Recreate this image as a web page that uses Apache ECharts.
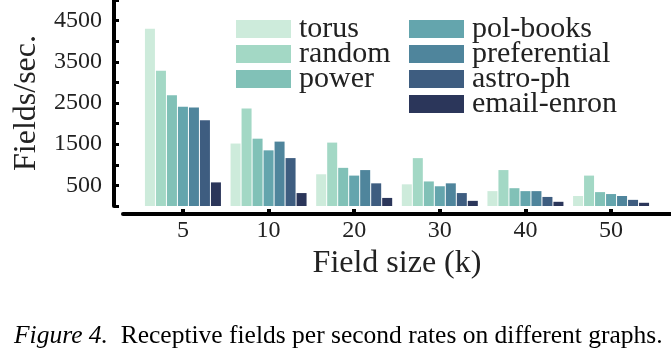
<!DOCTYPE html>
<html lang="en">
<head>
    <meta charset="UTF-8">
    <title>Receptive fields per second</title>
    <style>
        html, body { margin: 0; padding: 0; background: #fff; }
        #box { width: 671px; height: 354px; }
    </style>
</head>
<body>
    <div id="box"></div>
</body>
<script src="https://cdn.jsdelivr.net/npm/echarts@6/dist/echarts.min.js"></script>
<script>
    // field sizes (k) on the x axis
    var sizes = ['5', '10', '20', '30', '40', '50'];
    var graphs = ['torus', 'random', 'power', 'pol-books', 'preferential', 'astro-ph', 'email-enron'];
    var colors = ['#cdebdb', '#a3d8c5', '#81c1b7', '#64a5ad', '#4f859c', '#3e5d80', '#2b365a'];

    // fields/sec. per graph, one value per field size
    var torus = [4300, 1516, 770, 526, 361, 243];
    var random = [3280, 2364, 1539, 1162, 872, 738];
    var power = [2690, 1634, 926, 596, 432, 337];
    var polBooks = [2411, 1351, 738, 479, 361, 290];
    var preferential = [2388, 1563, 872, 550, 361, 243];
    var astroPh = [2081, 1163, 550, 314, 220, 149];
    var emailEnron = [573, 314, 196, 125, 102, 78];

    var yTicks = [500, 1500, 2500, 3500, 4500];

    var values = [torus, random, power, polBooks, preferential, astroPh, emailEnron];
    var font = "'Liberation Serif', 'Times New Roman', serif";

    var series = graphs.map(function (name, i) {
        return {
            name: name,
            type: 'bar',
            barWidth: 10,
            barGap: '10%',
            itemStyle: { color: colors[i] },
            data: values[i].map(function (v, j) { return [j, v]; })
        };
    });

    var legendBase = {
        orient: 'vertical',
        top: 14,
        padding: 0,
        itemWidth: 55,
        itemHeight: 18,
        itemGap: -5,
        icon: 'rect',
        selectedMode: false,
        textStyle: { fontFamily: font, fontSize: 30, fontWeight: 'normal', color: '#222', padding: [0, 0, 0, 3] }
    };

    var box = echarts.init(document.getElementById('box'));
    var option = {
        animation: false,
        backgroundColor: '#fff',
        textStyle: { fontFamily: font, fontWeight: 'normal' },
        title: {
            text: '{it|Figure 4.}  Receptive fields per second rates on different graphs.',
            left: 14,
            top: 323,
            padding: 0,
            textStyle: {
                fontFamily: font, fontSize: 25.5, fontWeight: 'normal', color: '#000',
                rich: { it: { fontFamily: font, fontSize: 25.5, fontStyle: 'italic', color: '#000' } }
            }
        },
        legend: [
            Object.assign({}, legendBase, { left: 236, data: graphs.slice(0, 3) }),
            Object.assign({}, legendBase, { left: 409, data: graphs.slice(3) })
        ],
        grid: { left: 123, right: 0, top: -6, bottom: 148 },
        xAxis: {
            type: 'value',
            min: -0.7,
            max: 5.7,
            offset: 8,
            name: 'Field size (k)',
            nameLocation: 'middle',
            nameGap: 33,
            nameTextStyle: { fontFamily: font, fontSize: 32, color: '#222' },
            axisLine: { onZero: false, lineStyle: { color: '#000', width: 4 } },
            axisTick: { inside: true, length: 5, customValues: [0, 1, 2, 3, 4, 5], lineStyle: { color: '#000', width: 4 } },
            axisLabel: {
                customValues: [0, 1, 2, 3, 4, 5],
                margin: 5,
                fontFamily: font, fontSize: 24, color: '#222',
                formatter: function (v) { return sizes[Math.round(v)]; }
            },
            splitLine: { show: false }
        },
        yAxis: {
            type: 'value',
            min: 0,
            max: 5000,
            interval: 500,
            offset: 9,
            name: 'Fields/sec.',
            nameLocation: 'middle',
            nameGap: 71,
            nameTextStyle: { fontFamily: font, fontSize: 32, fontWeight: 'normal', color: '#222' },
            axisLine: { show: true, onZero: false, lineStyle: { color: '#000', width: 4 } },
            axisTick: { show: true, inside: true, length: 5, lineStyle: { color: '#000', width: 3 } },
            axisLabel: {
                margin: 12,
                fontFamily: font, fontSize: 24, color: '#222',
                formatter: function (v) { return yTicks.indexOf(v) >= 0 ? String(v) : ''; }
            },
            splitLine: { show: false }
        },
        series: series
    };
    box.setOption(option);
</script>
</html>
